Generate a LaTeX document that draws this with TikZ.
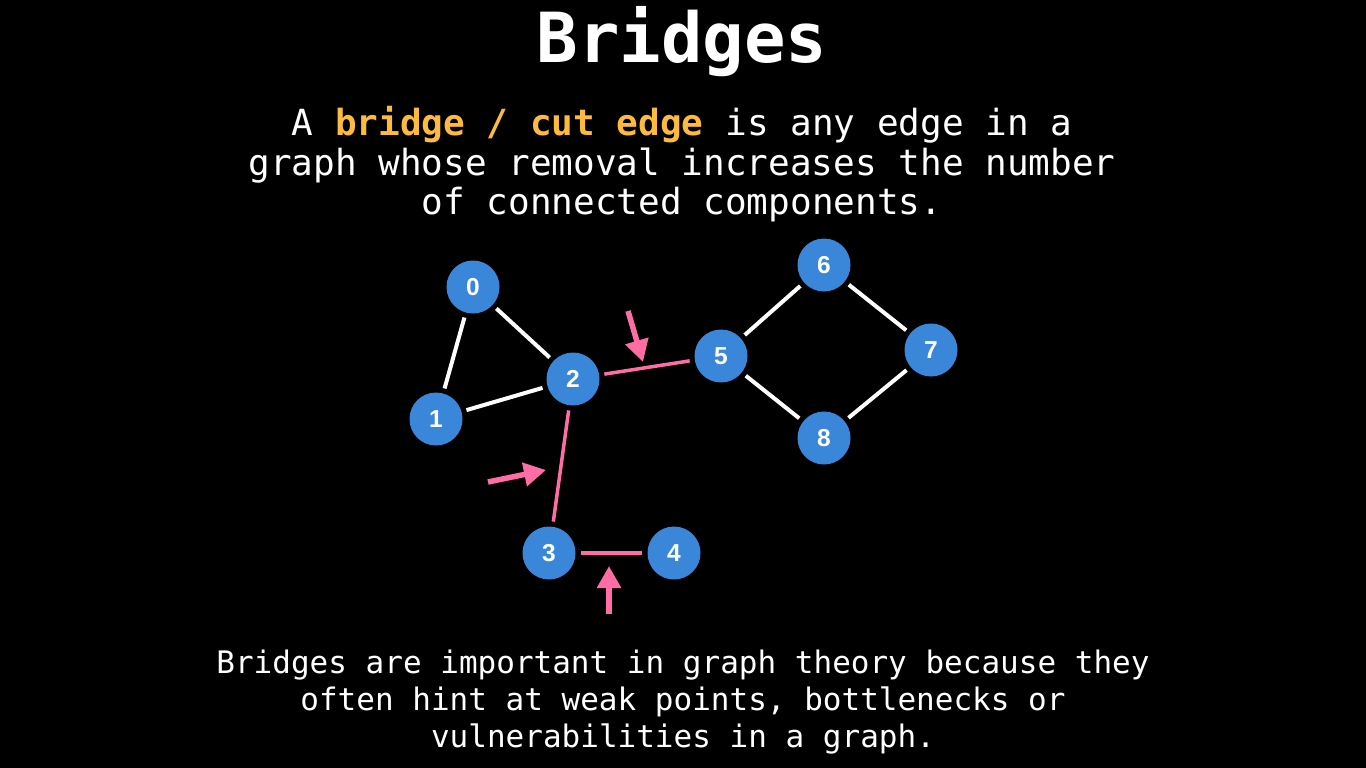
\documentclass[tikz,border=0pt]{standalone}
\usepackage{fontspec}
\setmainfont{DejaVu Sans Mono}
\newfontfamily\labelfont{Liberation Sans}
\usetikzlibrary{arrows.meta}
\definecolor{nodeblue}{RGB}{58,134,216}
\definecolor{bridgepink}{RGB}{255,108,166}
\definecolor{hiorange}{RGB}{252,186,62}
\begin{document}
\begin{tikzpicture}[x=1pt,y=-1pt,
  vertex/.style={circle,fill=nodeblue,minimum size=53pt,inner sep=0pt,
    text=white,font=\labelfont\bfseries\fontsize{24.5}{24.5}\selectfont},
  edge/.style={draw=white,line width=4pt,shorten <=5pt,shorten >=5pt},
  bridge/.style={draw=bridgepink,line width=3.5pt,shorten <=5pt,shorten >=5pt},
  pointer/.style={draw=bridgepink,line width=5.5pt,
    -{Triangle[length=22pt,width=23pt]}},
  textline/.style={anchor=base,text=white,inner sep=0pt}]
  \fill[black] (0,0) rectangle (1366,768);
  \useasboundingbox (0,0) rectangle (1366,768);

  % title and definition
  \node[textline,font=\bfseries\fontsize{69}{69}\selectfont] (title) at (682,63) {Bridges};
  \node[textline,font=\fontsize{36}{36}\selectfont] (d1) at (682,135)
    {A \textcolor{hiorange}{\bfseries bridge / cut edge} is any edge in a};
  \node[textline,font=\fontsize{36}{36}\selectfont] (d2) at (682,175)
    {graph whose removal increases the number};
  \node[textline,font=\fontsize{36}{36}\selectfont] (d3) at (682,214)
    {of connected components.};

  % graph vertices
  \node[vertex] (n0) at (473,287) {0};
  \node[vertex] (n1) at (436,419) {1};
  \node[vertex] (n2) at (573,379) {2};
  \node[vertex] (n3) at (549,553) {3};
  \node[vertex] (n4) at (674,553) {4};
  \node[vertex] (n5) at (721,356) {5};
  \node[vertex] (n6) at (824,265) {6};
  \node[vertex] (n7) at (931,350) {7};
  \node[vertex] (n8) at (824,438) {8};

  % ordinary edges
  \draw[edge] (n0) -- (n1);
  \draw[edge] (n0) -- (n2);
  \draw[edge] (n1) -- (n2);
  \draw[edge] (n5) -- (n6);
  \draw[edge] (n6) -- (n7);
  \draw[edge] (n7) -- (n8);
  \draw[edge] (n8) -- (n5);

  % bridges
  \draw[bridge] (n2) -- (n5);
  \draw[bridge] (n2) -- (n3);
  \draw[bridge] (n3) -- (n4);

  % pointers to the bridges
  \coordinate (p1a) at (628,311); \coordinate (p1b) at (643,362);
  \coordinate (p2a) at (488,482); \coordinate (p2b) at (546,470);
  \coordinate (p3a) at (609,614); \coordinate (p3b) at (609,566);
  \draw[pointer] (p1a) -- (p1b);
  \draw[pointer] (p2a) -- (p2b);
  \draw[pointer] (p3a) -- (p3b);

  % closing remark
  \node[textline,font=\fontsize{31}{31}\selectfont] (r1) at (683,673)
    {Bridges are important in graph theory because they};
  \node[textline,font=\fontsize{31}{31}\selectfont] (r2) at (683,710)
    {often hint at weak points, bottlenecks or};
  \node[textline,font=\fontsize{31}{31}\selectfont] (r3) at (683,747)
    {vulnerabilities in a graph.};
\end{tikzpicture}
\end{document}
